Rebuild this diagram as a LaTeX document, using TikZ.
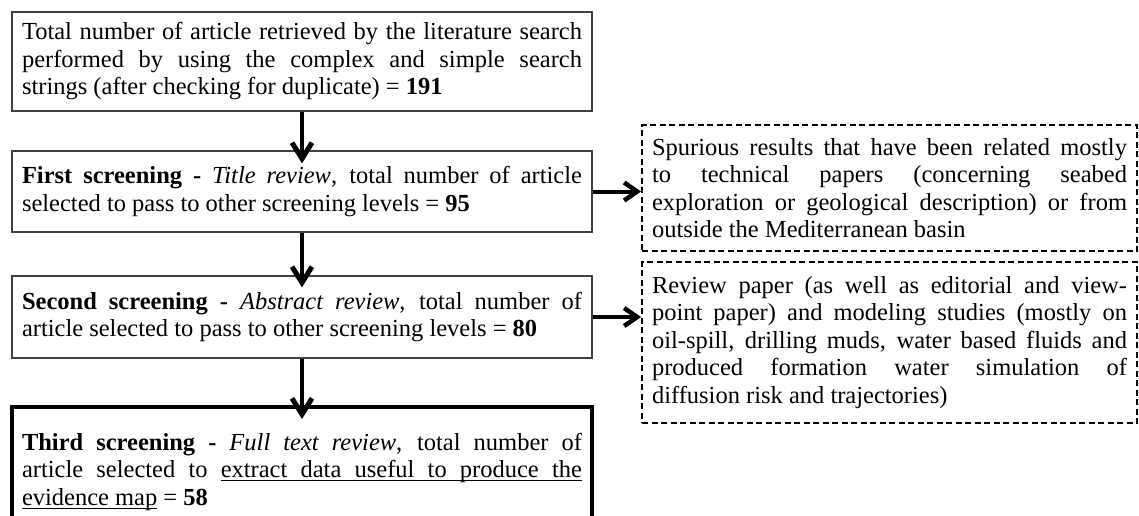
\documentclass[tikz,border=0pt]{standalone}
\usepackage{fontspec}
\setmainfont{Liberation Serif}
\usetikzlibrary{arrows.meta}
\newcommand{\diagfont}{\fontsize{24.5pt}{27.5pt}\selectfont}
% underlined word and stretchable underlined space
\newcommand{\uw}[1]{{\setbox0\hbox{#1}\rlap{\vrule height -2.4pt depth 3.6pt width \wd0}\box0}}
\newcommand{\us}{\leavevmode\leaders\hrule height -2.4pt depth 3.6pt
  \hskip\fontdimen2\font plus\fontdimen3\font minus\fontdimen4\font\relax}
\tikzset{
  para/.style={align=justify, font=\diagfont, text=black,
    execute at begin node={\parindent=0pt\tolerance=10000\hyphenpenalty=10000}},
  stage/.style={para, draw=black!75, line width=1.2pt, text width=560pt,
    inner xsep=10pt, inner ysep=0pt, minimum width=580pt},
  finalstage/.style={stage, draw=black, line width=4pt},
  excluded/.style={para, draw=black, line width=1.8pt, dash pattern=on 6pt off 3.5pt,
    text width=475pt, inner xsep=10pt, inner ysep=0pt, minimum width=495pt},
  flow/.style={line width=4.5pt, black,
    -{Straight Barb[length=16pt,width=20pt,line width=5pt]}},
  side/.style={line width=4pt, black,
    -{Straight Barb[length=13pt,width=18pt,line width=4.5pt]}}
}
\begin{document}
\begin{tikzpicture}[x=1pt,y=-1pt]
\useasboundingbox (0,0) rectangle (1139,515);
\clip (0,0) rectangle (1139,515);

% main screening stages
\node[stage, minimum height=99pt] (s1) at (302,61.5)
  {Total number of article retrieved by the literature search\linebreak
   performed by using the complex and simple search\linebreak
   strings (after checking for duplicate) = \textbf{191}};
\node[stage, minimum height=81pt] (s2) at (302,191.5)
  {\textbf{First screening -} \textit{Title review}, total number of article\linebreak
   selected to pass to other screening levels = \textbf{95}};
\node[stage, minimum height=82pt] (s3) at (302,317)
  {\textbf{Second screening -} \textit{Abstract review}, total number of\linebreak
   article selected to pass to other screening levels = \textbf{80}};
\node[finalstage, anchor=north, inner ysep=26pt] (s4) at (302,405)
  {\textbf{Third screening -} \textit{Full text review}, total number of\linebreak
   article selected to \uw{extract}\us\uw{data}\us\uw{useful}\us\uw{to}\us\uw{produce}\us\uw{the}\linebreak
   \uw{evidence}\us\uw{map} = \textbf{58}};

% excluded records
\node[excluded, minimum height=126pt] (x1) at (889.5,188)
  {Spurious results that have been related mostly\linebreak
   to technical papers (concerning seabed\linebreak
   exploration or geological description) or from\linebreak
   outside the Mediterranean basin};
\node[excluded, minimum height=161pt] (x2) at (889.5,342.5)
  {Review paper (as well as editorial and view-\linebreak
   point paper) and modeling studies (mostly on\linebreak
   oil-spill, drilling muds, water based fluids and\linebreak
   produced formation water simulation of\linebreak
   diffusion risk and trajectories)};

% connectors
\draw[flow] (s1.south) -- ([yshift=-13pt]s2.north);
\draw[flow] (s2.south) -- ([yshift=-12pt]s3.north);
\draw[flow] (s3.south) -- ([yshift=-14pt]s4.north);
\draw[side] (s2.east) -- (s2.east -| x1.west);
\draw[side] (s3.east) -- (s3.east -| x2.west);
\end{tikzpicture}
\end{document}
